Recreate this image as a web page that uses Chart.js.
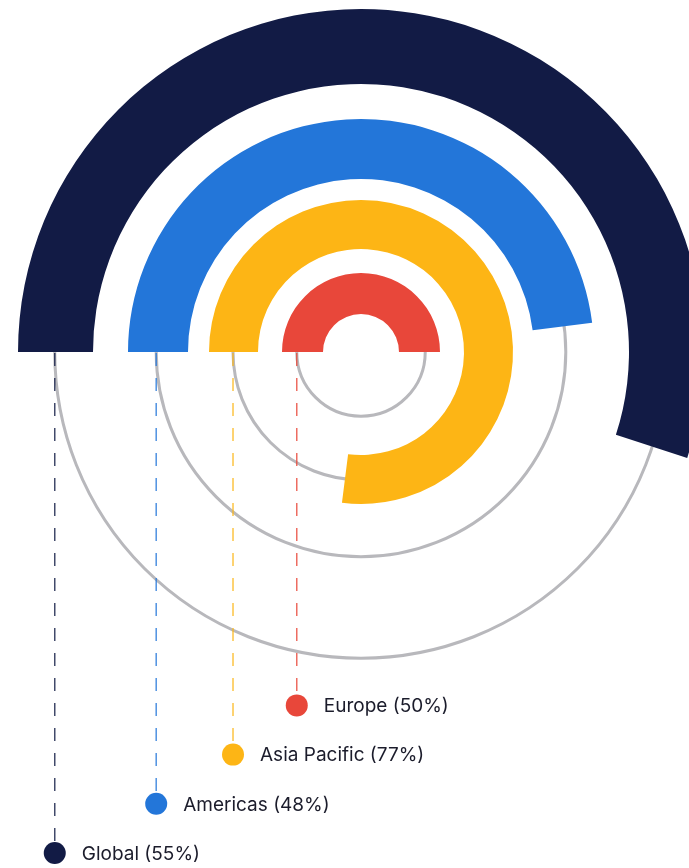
<!DOCTYPE html>
<html>
<head>
<meta charset="utf-8">
<script src="https://cdn.jsdelivr.net/npm/chart.js@4.4.1/dist/chart.umd.min.js"></script>
<style>
  html, body { margin: 0; padding: 0; background: #fff; overflow: hidden; }
  #wrap { width: 704px; height: 868px; }
</style>
</head>
<body>
<div id="wrap"><canvas id="chart" width="704" height="868"></canvas></div>
<script>
// Datos del gráfico (de fuera hacia dentro)
const regions = ['Global', 'Americas', 'Asia Pacific', 'Europe'];
const shares = [55, 48, 77, 50];
const colors = ['#121b45', '#2376d9', '#fdb515', '#e8473a'];

// Grosor de cada anillo y de los huecos entre ellos (solo estilo)
const ringWeights = [75, 60, 49, 41];
const gapWeights = [35, 21, 24];
const trackPos = [0.51, 0.53, 0.51, 0.64]; // posición del círculo gris dentro del anillo
const trackColor = '#b8b8bc';

// Construir datasets: anillo, hueco, anillo, hueco...
const datasets = [];
regions.forEach((name, i) => {
    datasets.push({
        label: name,
        data: [shares[i], 100 - shares[i]],
        backgroundColor: [colors[i], 'rgba(0,0,0,0)'],
        borderWidth: 0,
        weight: ringWeights[i],
        seriesIndex: i
    });
    if (i < gapWeights.length) {
        datasets.push({
            label: 'gap' + i,
            data: [100],
            backgroundColor: ['rgba(0,0,0,0)'],
            borderWidth: 0,
            weight: gapWeights[i]
        });
    }
});

function seriesMetas(chart) {
    const out = [];
    chart.data.datasets.forEach((ds, idx) => {
        if (ds.seriesIndex !== undefined) {
            out.push({ ds: ds, meta: chart.getDatasetMeta(idx) });
        }
    });
    return out;
}

function trackRadius(meta, i) {
    const c = meta.controller;
    return c.innerRadius + (c.outerRadius - c.innerRadius) * trackPos[i];
}

// Círculos grises detrás de los arcos
const trackPlugin = {
    id: 'tracks',
    beforeDatasetsDraw(chart) {
        const ctx = chart.ctx;
        ctx.save();
        seriesMetas(chart).forEach(({ ds, meta }) => {
            const arc = meta.data[0];
            ctx.beginPath();
            ctx.arc(arc.x, arc.y, trackRadius(meta, ds.seriesIndex), 0, Math.PI * 2);
            ctx.strokeStyle = trackColor;
            ctx.lineWidth = 3;
            ctx.stroke();
        });
        ctx.restore();
    }
};

// Líneas punteadas y leyenda escalonada
const legendPlugin = {
    id: 'stairLegend',
    afterDatasetsDraw(chart) {
        const ctx = chart.ctx;
        const items = seriesMetas(chart);
        const bottom = chart.height;
        ctx.save();
        items.forEach(({ ds, meta }) => {
            const i = ds.seriesIndex;
            const arc = meta.data[0];
            const x = arc.x - trackRadius(meta, i);
            const y = bottom - 15 - i * 49.2;
            // línea punteada
            ctx.beginPath();
            ctx.setLineDash([13, 12]);
            ctx.moveTo(x, arc.y + 1);
            ctx.lineTo(x, y);
            ctx.strokeStyle = colors[i];
            ctx.globalAlpha = 0.8;
            ctx.lineWidth = 1.5;
            ctx.stroke();
            ctx.globalAlpha = 1;
            ctx.setLineDash([]);
            // punto
            ctx.beginPath();
            ctx.arc(x, y, 11, 0, Math.PI * 2);
            ctx.fillStyle = colors[i];
            ctx.fill();
            // texto
            ctx.fillStyle = '#1b1c2b';
            ctx.font = '19px Inter';
            ctx.textBaseline = 'middle';
            ctx.textAlign = 'left';
            ctx.fillText(regions[i] + ' (' + shares[i] + '%)', x + 27, y + 1);
        });
        ctx.restore();
    }
};

const ctx = document.getElementById('chart').getContext('2d');
new Chart(ctx, {
    type: 'doughnut',
    data: {
        labels: ['value', 'rest'],
        datasets: datasets
    },
    options: {
        responsive: false,
        animation: false,
        events: [],
        rotation: -90,
        cutout: 38,
        layout: {
            padding: { left: 18, top: 9, right: 0, bottom: 173 }
        },
        plugins: {
            legend: { display: false },
            tooltip: { enabled: false }
        }
    },
    plugins: [trackPlugin, legendPlugin]
});
</script>
</body>
</html>
